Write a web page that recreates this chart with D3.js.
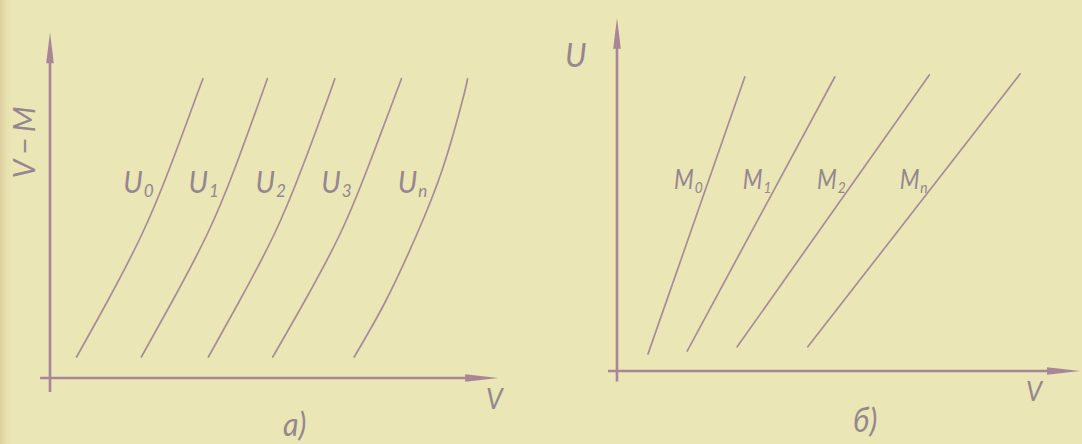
<!DOCTYPE html>
<html>
<head>
<meta charset="utf-8">
<script src="https://cdn.jsdelivr.net/npm/d3@7"></script>
<style>
  html, body { margin: 0; padding: 0; background: #eae6b5; }
  svg { display: block; }
</style>
</head>
<body>
<svg id="chart" width="1082" height="444"></svg>
<script>
// ---- Panel а): curves of constant U in the (V, V−M) plane ----
// V−M levels at which every U-curve is sampled
const levelsA = [0.6, 2.2, 4.1, 6.0, 7.9, 8.55];
// V values of each curve at those levels
const curveU0 = [0.59, 1.28, 2.04, 2.66, 3.21, 3.40];
const curveU1 = [2.03, 2.72, 3.49, 4.11, 4.65, 4.83];
const curveU2 = [3.52, 4.21, 4.98, 5.60, 6.15, 6.33];
const curveU3 = [4.95, 5.66, 6.44, 7.06, 7.62, 7.81];
const curveUn = [6.76, 7.46, 8.15, 8.73, 9.16, 9.28];
const subsA = ["0", "1", "2", "3", "n"];

// ---- Panel б): straight lines of constant M in the (V, U) plane ----
const subsB = ["0", "1", "2", "n"];
const lineStartV = [0.69, 1.56, 2.67, 4.24];
const lineStartU = [0.49, 0.57, 0.69, 0.69];
const lineEndV   = [2.84, 4.84, 6.94, 8.96];
const lineEndU   = [8.40, 8.40, 8.46, 8.49];

// ---- styling ----
const W = 1082, H = 444;
const paper = "#eae6b5";
const axisColor = "#a88597";
const lineColor = "#a68d98";
const inkText = "#968690";
const fontFam = "Lato, 'DejaVu Sans', sans-serif";

const svg = d3.select("#chart");

// paper with a slightly darker left edge
const defs = svg.append("defs");
const edge = defs.append("linearGradient").attr("id", "edge").attr("x1", 0).attr("x2", 1);
edge.append("stop").attr("offset", 0).attr("stop-color", "#dccf9e");
edge.append("stop").attr("offset", 1).attr("stop-color", paper).attr("stop-opacity", 0);
svg.append("rect").attr("width", W).attr("height", H).attr("fill", paper);
svg.append("rect").attr("width", 14).attr("height", H).attr("fill", "url(#edge)");

// scales
const xA = d3.scaleLinear().domain([0, 10]).range([50, 500]);
const yA = d3.scaleLinear().domain([0, 10]).range([378, 28]);
const xB = d3.scaleLinear().domain([0, 10]).range([617, 1067]);
const yB = d3.scaleLinear().domain([0, 10]).range([371, 21]);

// axes with arrowheads
function drawAxes(x, y, xLo, xHi, yLo, yHi) {
  const g = svg.append("g");
  const ox = x(0), oy = y(0);
  const tipX = x(xHi), tipY = y(yHi);
  g.append("line")
    .attr("x1", x(xLo)).attr("x2", tipX - 20)
    .attr("y1", oy).attr("y2", oy)
    .attr("stroke", axisColor).attr("stroke-width", 2.6);
  g.append("line")
    .attr("x1", ox).attr("x2", ox)
    .attr("y1", y(yLo)).attr("y2", tipY + 20)
    .attr("stroke", axisColor).attr("stroke-width", 2.6);
  g.append("path")
    .attr("d", `M${tipX},${oy} L${tipX - 33},${oy - 3.8} L${tipX - 33},${oy + 3.8} Z`)
    .attr("fill", axisColor);
  g.append("path")
    .attr("d", `M${ox},${tipY} L${ox - 3.8},${tipY + 31} L${ox + 3.8},${tipY + 31} Z`)
    .attr("fill", axisColor);
}
drawAxes(xA, yA, -0.22, 9.96, -0.4, 9.88);
drawAxes(xB, yB, -0.2, 10.29, -0.3, 10.09);

// hand-lettered style text helper
function label(x, y, main, sub, opts = {}) {
  const size = opts.size || 30;
  const t = svg.append("text")
    .attr("transform", `translate(${x},${y}) scale(${opts.sx || 0.95},1)`)
    .attr("text-anchor", opts.anchor || "start")
    .attr("font-family", fontFam)
    .attr("font-weight", 400)
    .attr("font-style", "italic")
    .attr("font-size", size)
    .attr("fill", inkText);
  t.append("tspan").text(main);
  if (sub) {
    t.append("tspan").attr("font-size", size * 0.6).attr("dy", 4).attr("dx", 1).text(sub);
  }
  return t;
}

// panel а) curves
const curvesA = [curveU0, curveU1, curveU2, curveU3, curveUn];
const lineA = d3.line().curve(d3.curveNatural)
  .x(d => xA(d[0])).y(d => yA(d[1]));
const labelLevelA = 5.31;
curvesA.forEach((vals, i) => {
  const pts = vals.map((v, k) => [v, levelsA[k]]);
  svg.append("path").attr("d", lineA(pts))
    .attr("fill", "none").attr("stroke", lineColor).attr("stroke-width", 1.7)
    .attr("stroke-linecap", "round");
  const vAt = d3.scaleLinear().domain(levelsA).range(vals)(labelLevelA);
  label(xA(vAt) - 6, yA(labelLevelA) + 1, "U", subsA[i], { anchor: "end" });
});

// panel б) straight lines
const labelLevelB = 5.2;
subsB.forEach((s, i) => {
  svg.append("line")
    .attr("x1", xB(lineStartV[i])).attr("y1", yB(lineStartU[i]))
    .attr("x2", xB(lineEndV[i])).attr("y2", yB(lineEndU[i]))
    .attr("stroke", lineColor).attr("stroke-width", 1.7).attr("stroke-linecap", "round");
  const vAt = d3.scaleLinear().domain([lineStartU[i], lineEndU[i]])
    .range([lineStartV[i], lineEndV[i]])(labelLevelB);
  label(xB(vAt) - 3, yB(labelLevelB), "M", s, { anchor: "end", size: 27, sx: 0.85 });
});

// axis names
svg.append("text")
  .attr("transform", "translate(35,140) rotate(-90)")
  .attr("text-anchor", "middle")
  .attr("font-family", fontFam).attr("font-weight", 400).attr("font-style", "italic")
  .attr("font-size", 30).attr("letter-spacing", 5)
  .attr("fill", inkText)
  .text("V−M");
label(565, 67, "U", null, { size: 33 });
label(486, 409, "V", null, { size: 28 });
label(1026, 401, "V", null, { size: 27 });

// panel captions
label(283, 436, "а)", null, { size: 32 });
label(853, 432, "б)", null, { size: 32 });
</script>
</body>
</html>
